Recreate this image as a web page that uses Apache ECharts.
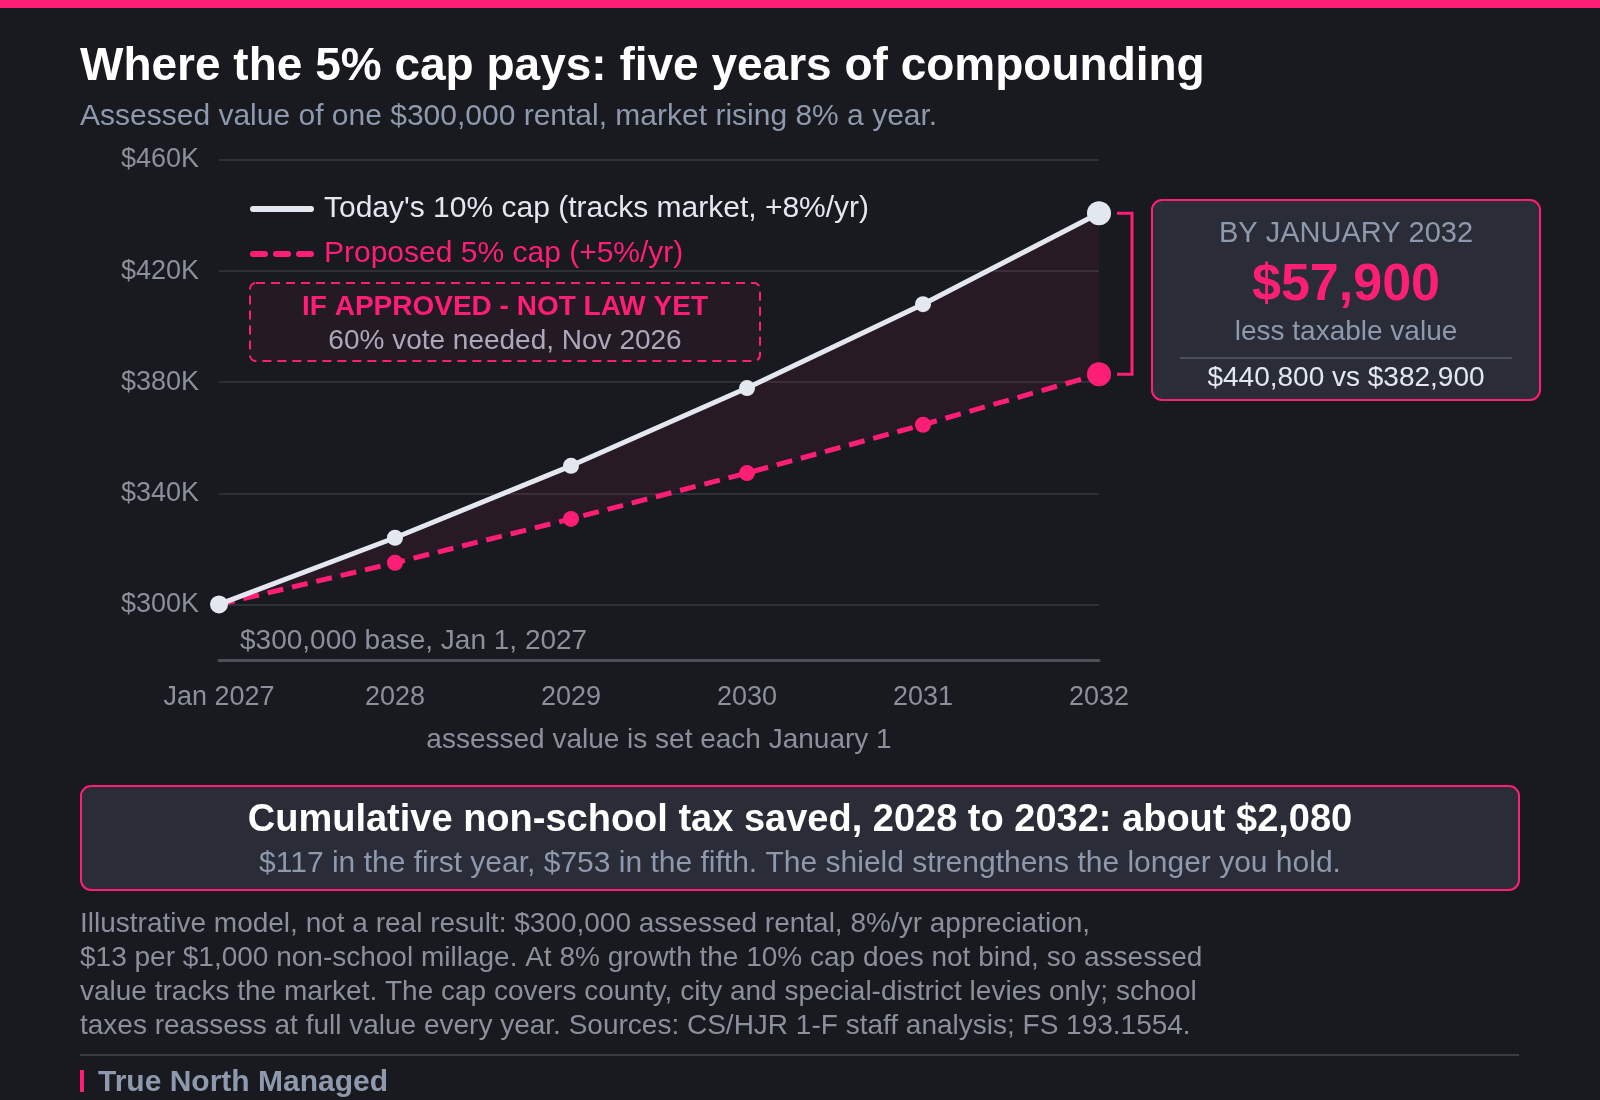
<!DOCTYPE html>
<html>
<head>
<meta charset="utf-8">
<script src="https://cdn.jsdelivr.net/npm/echarts@6/dist/echarts.min.js"></script>
<style>
  html, body { margin: 0; background: #181a1f; }
  #chart { width: 1600px; height: 1100px; }
</style>
</head>
<body>
<div id="chart"></div>
<script>
// data
const years = ['Jan 2027', '2028', '2029', '2030', '2031', '2032']
const todayCap = [300000, 324000, 349900, 377900, 408100, 440800]
const proposedCap = [300000, 315000, 330800, 347300, 364700, 382900]
const yTicks = [300000, 340000, 380000, 420000, 460000]
const todayName = "Today's 10% cap (tracks market, +8%/yr)"
const proposedName = 'Proposed 5% cap (+5%/yr)'
const footnoteLines = [
	'Illustrative model, not a real result: $300,000 assessed rental, 8%/yr appreciation,',
	'$13 per $1,000 non-school millage. At 8% growth the 10% cap does not bind, so assessed',
	'value tracks the market. The cap covers county, city and special-district levies only; school',
	'taxes reassess at full value every year. Sources: CS/HJR 1-F staff analysis; FS 193.1554.',
]

const PINK = '#ff1e76'
const WHITE = '#e3e8f0'
const GREY = '#8a909c'
const SLATE = '#8e99ad'
const PANEL = '#2a2d37'
const FONT = '"Liberation Sans", Arial, sans-serif'

const gap = todayCap.map((v, i) => v - proposedCap[i])
const fmt = v => '$' + v.toLocaleString('en-US')

const chart = echarts.init(document.getElementById('chart'))

const option = {
	backgroundColor: '#181a1f',
	textStyle: { fontFamily: FONT },
	animation: false,
	grid: { left: 219, right: 501, top: 160, bottom: 440 },
	legend: {
		left: 245,
		top: 189,
		orient: 'vertical',
		itemWidth: 64,
		itemHeight: 6,
		itemGap: 15,
		textStyle: { fontSize: 30, fontFamily: FONT, padding: [0, 0, 0, 5] },
		data: [
			{
				name: todayName,
				icon: 'path://M3,0h58a3,3 0 0 1 0,6h-58a3,3 0 0 1 0,-6z',
				textStyle: { color: WHITE },
			},
			{
				name: proposedName,
				icon: 'path://M3,0h12a3,3 0 0 1 0,6h-12a3,3 0 0 1 0,-6z M26,0h12a3,3 0 0 1 0,6h-12a3,3 0 0 1 0,-6z M49,0h12a3,3 0 0 1 0,6h-12a3,3 0 0 1 0,-6z',
				textStyle: { color: PINK },
			},
		],
	},
	xAxis: {
		type: 'category',
		data: years,
		boundaryGap: false,
		axisLine: { lineStyle: { color: '#4b4f58', width: 3 } },
		axisTick: { show: false },
		axisLabel: { color: GREY, fontSize: 27, margin: 24 },
		name: 'assessed value is set each January 1',
		nameLocation: 'middle',
		nameGap: 66,
		nameTextStyle: { color: GREY, fontSize: 28 },
	},
	yAxis: {
		type: 'value',
		min: 280000,
		max: 460000,
		interval: 20000,
		axisLine: { show: false },
		axisTick: { show: false },
		axisLabel: {
			color: GREY,
			fontSize: 27,
			margin: 20,
			padding: [5, 0, 0, 0],
			formatter: v => (yTicks.includes(v) ? '$' + v / 1000 + 'K' : ''),
		},
		splitLine: {
			lineStyle: { color: ['rgba(0,0,0,0)', '#2d3037'], width: 2 },
		},
	},
	series: [
		{
			name: 'base',
			type: 'line',
			stack: 'gap',
			data: proposedCap,
			symbol: 'none',
			lineStyle: { opacity: 0 },
			silent: true,
			z: 1,
		},
		{
			name: 'gap',
			type: 'line',
			stack: 'gap',
			data: gap,
			symbol: 'none',
			lineStyle: { opacity: 0 },
			areaStyle: { color: 'rgba(255,30,118,0.1)', origin: 'start' },
			silent: true,
			z: 1,
		},
		{
			name: todayName,
			type: 'line',
			data: todayCap,
			color: WHITE,
			lineStyle: { color: WHITE, width: 5, cap: 'round' },
			symbol: 'circle',
			symbolSize: (v, p) => (p.dataIndex === 5 ? 24 : p.dataIndex === 0 ? 18 : 16),
			itemStyle: { color: WHITE },
			z: 3,
		},
		{
			name: proposedName,
			type: 'line',
			data: proposedCap,
			color: PINK,
			lineStyle: { color: PINK, width: 5, type: [16, 9] },
			symbol: 'circle',
			symbolSize: (v, p) => (p.dataIndex === 5 ? 24 : p.dataIndex === 0 ? 0 : 16),
			itemStyle: { color: PINK },
			z: 2,
		},
	],
}

chart.setOption(option)

// annotations, placed from the chart's own scales
const top2032 = chart.convertToPixel({ gridIndex: 0 }, [5, todayCap[5]])
const bot2032 = chart.convertToPixel({ gridIndex: 0 }, [5, proposedCap[5]])
const base = chart.convertToPixel({ gridIndex: 0 }, [0, 280000])
const bx = top2032[0] + 33

const txt = (id, x, y, text, size, color, extra) => ({
	type: 'text',
	id,
	x,
	y,
	style: Object.assign(
		{ text, fontSize: size, fontFamily: FONT, fill: color, verticalAlign: 'middle' },
		extra || {}
	),
})

chart.setOption({
	graphic: [
		{ type: 'rect', id: 'topbar', shape: { x: 0, y: 0, width: 1600, height: 8 }, style: { fill: PINK } },
		txt('title', 80, 67, 'Where the 5% cap pays: five years of compounding', 46, '#ffffff', { fontWeight: 'bold' }),
		txt('sub', 80, 117, 'Assessed value of one $300,000 rental, market rising 8% a year.', 30, SLATE),

		// proposal caveat box
		{
			type: 'rect', id: 'caveat',
			shape: { x: 250, y: 283, width: 510, height: 78, r: 6 },
			style: { fill: 'rgba(255,30,118,0.05)', stroke: PINK, lineWidth: 2, lineDash: [9, 6] },
			z: 10,
		},
		txt('cav1', 505, 307, 'IF APPROVED - NOT LAW YET', 28, PINK, { fontWeight: 'bold', align: 'center' }),
		txt('cav2', 505, 341, '60% vote needed, Nov 2026', 28, '#a7afbf', { align: 'center' }),

		// base label
		txt('base', base[0] + 21, base[1] - 19, '$300,000 base, Jan 1, 2027', 28, GREY),

		// bracket between the 2032 values
		{
			type: 'polyline', id: 'bracket',
			shape: { points: [[bx - 15, top2032[1]], [bx, top2032[1]], [bx, bot2032[1]], [bx - 15, bot2032[1]]] },
			style: { stroke: PINK, lineWidth: 3, fill: null },
		},

		// right callout
		{
			type: 'rect', id: 'callout',
			shape: { x: 1152, y: 200, width: 388, height: 200, r: 10 },
			style: { fill: PANEL, stroke: PINK, lineWidth: 2 },
		},
		txt('c1', 1346, 234, 'BY JANUARY 2032', 29, SLATE, { align: 'center' }),
		txt('c2', 1346, 286, fmt(todayCap[5] - proposedCap[5]), 52, PINK, { align: 'center', fontWeight: 'bold' }),
		txt('c3', 1346, 332, 'less taxable value', 28, SLATE, { align: 'center' }),
		{
			type: 'line', id: 'cdiv',
			shape: { x1: 1180, y1: 358, x2: 1512, y2: 358 },
			style: { stroke: '#4a4e5a', lineWidth: 2 },
		},
		txt('c4', 1346, 378, fmt(todayCap[5]) + ' vs ' + fmt(proposedCap[5]), 28, WHITE, { align: 'center' }),

		// cumulative savings box
		{
			type: 'rect', id: 'savings',
			shape: { x: 81, y: 786, width: 1438, height: 104, r: 10 },
			style: { fill: PANEL, stroke: PINK, lineWidth: 2 },
		},
		txt('s1', 800, 821, 'Cumulative non-school tax saved, 2028 to 2032: about $2,080', 38, '#ffffff', { align: 'center', fontWeight: 'bold' }),
		txt('s2', 800, 864, '$117 in the first year, $753 in the fifth. The shield strengthens the longer you hold.', 30, SLATE, { align: 'center' }),

		// footnote
		{
			type: 'text', id: 'foot', x: 80, y: 907,
			style: { text: footnoteLines.join('\n'), fontSize: 28, lineHeight: 34, fontFamily: FONT, fill: GREY },
		},
		{
			type: 'line', id: 'fdiv',
			shape: { x1: 80, y1: 1055, x2: 1519, y2: 1055 },
			style: { stroke: '#393c44', lineWidth: 2 },
		},
		{ type: 'rect', id: 'fbar', shape: { x: 80, y: 1070, width: 4, height: 22 }, style: { fill: PINK } },
		txt('brand', 98, 1083, 'True North Managed', 30, SLATE, { fontWeight: 'bold' }),
	],
})
</script>
</body>
</html>
